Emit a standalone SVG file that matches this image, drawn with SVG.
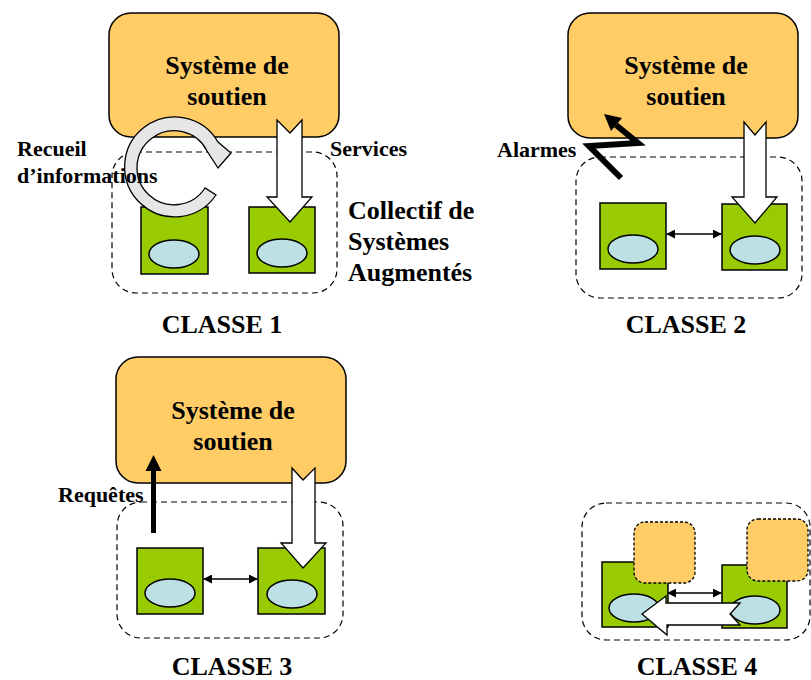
<svg xmlns="http://www.w3.org/2000/svg" width="811" height="680" viewBox="0 0 811 680">
<style>
.sup{fill:#FFCC66;stroke:#000;stroke-width:1.5}
.dash{fill:none;stroke:#000;stroke-width:1.2;stroke-dasharray:6,4}
.green{fill:#99CC00;stroke:#000;stroke-width:1.5}
.ell{fill:#BCE0E4;stroke:#000;stroke-width:1.5}
.warrow{fill:#fff;stroke:#000;stroke-width:1.3;stroke-linejoin:miter}
.dbl{stroke:#000;stroke-width:1.5;marker-start:url(#ah);marker-end:url(#ah)}
.small{fill:#FFCC66;stroke:#000;stroke-width:1.3;stroke-dasharray:3,2}
.t{font-family:"Liberation Serif","Times New Roman",serif;font-weight:bold;fill:#000}
.big{font-size:26px}
.lab{font-size:22px}
</style>
<defs>
<marker id="ah" viewBox="0 0 10 10" refX="9" refY="5" markerWidth="9" markerHeight="9" markerUnits="userSpaceOnUse" orient="auto-start-reverse">
<path d="M0,0 L10,5 L0,10 Z" fill="#000"/>
</marker>
</defs>
<rect width="811" height="680" fill="#fff"/>

<!-- CLASSE 1 -->
<g id="c1">
<rect class="dash" x="112" y="152" width="225" height="141" rx="24"/>
<g id="c1-support">
<rect class="sup" x="109" y="13" width="230" height="124" rx="22"/>
<text class="t big" x="227" y="74" text-anchor="middle">Système de</text>
<text class="t big" x="227" y="105" text-anchor="middle">soutien</text>
</g>
<g id="c1-sys1">
<rect class="green" x="141" y="207" width="67" height="67"/>
<ellipse class="ell" cx="174" cy="254" rx="25" ry="14"/>
</g>
<g id="c1-sys2">
<rect class="green" x="249" y="207" width="66" height="66"/>
<ellipse class="ell" cx="282" cy="253" rx="25" ry="14"/>
</g>
</g>

<!-- CLASSE 2 -->
<g id="c2">
<rect class="dash" x="576" y="157" width="226" height="141" rx="24"/>
<g id="c2-support">
<rect class="sup" x="568" y="13" width="230" height="125" rx="22"/>
<text class="t big" x="686" y="74" text-anchor="middle">Système de</text>
<text class="t big" x="686" y="105" text-anchor="middle">soutien</text>
</g>
<g id="c2-sys1">
<rect class="green" x="600" y="203" width="66" height="66"/>
<ellipse class="ell" cx="633" cy="249" rx="25" ry="14"/>
</g>
<g id="c2-sys2">
<rect class="green" x="722" y="204" width="65" height="66"/>
<ellipse class="ell" cx="755" cy="250" rx="25" ry="14"/>
</g>
</g>

<!-- CLASSE 3 -->
<g id="c3">
<rect class="dash" x="117" y="502" width="226" height="136" rx="24"/>
<g id="c3-support">
<rect class="sup" x="116" y="357" width="230" height="126" rx="22"/>
<text class="t big" x="233" y="419" text-anchor="middle">Système de</text>
<text class="t big" x="233" y="450" text-anchor="middle">soutien</text>
</g>
<g id="c3-sys1">
<rect class="green" x="137" y="548" width="66" height="66"/>
<ellipse class="ell" cx="170" cy="593" rx="25" ry="14"/>
</g>
<g id="c3-sys2">
<rect class="green" x="258" y="548" width="67" height="66"/>
<ellipse class="ell" cx="292" cy="594" rx="25" ry="14"/>
</g>
</g>

<!-- CLASSE 4 -->
<g id="c4">
<rect class="dash" x="582" y="503" width="228" height="137" rx="24"/>
<g id="c4-sys1">
<rect class="green" x="602" y="562" width="66" height="65"/>
<ellipse class="ell" cx="634" cy="608" rx="25" ry="14"/>
<rect class="small" x="634" y="522" width="61" height="61" rx="11"/>
</g>
<g id="c4-sys2">
<rect class="green" x="722" y="565" width="65" height="63"/>
<ellipse class="ell" cx="755" cy="610" rx="25" ry="14"/>
<rect class="small" x="747" y="519" width="61" height="62" rx="11"/>
</g>
</g>

<!-- connectors -->
<g id="connectors">
<!-- class 1 -->
<path class="warrow" d="M277,120 L290,133 L302,120 L302,197 L312,197 L290,222 L267,197 L277,197 Z"/>
<path d="M216,195 A50,50 0 1 1 218,142 L231,153 L218,168 L207,151 A37,37 0 1 0 205,188 Z" fill="#E6E6E6" stroke="#000" stroke-width="1.3" stroke-linejoin="miter"/>
<!-- class 2 -->
<path class="warrow" d="M744,122 L755,135 L766,122 L766,197 L777,197 L755,223 L732,197 L744,197 Z"/>
<line class="dbl" x1="667" y1="234" x2="721" y2="234"/>
<polyline points="621,178 589,146 638,143 616,125" fill="none" stroke="#000" stroke-width="6" stroke-linejoin="miter" stroke-miterlimit="10"/>
<polygon points="604,114 622,118 611,131" fill="#000"/>
<!-- class 3 -->
<path class="warrow" d="M292,468 L303,480 L315,468 L315,543 L326,543 L303,568 L281,543 L292,543 Z"/>
<line class="dbl" x1="204" y1="579" x2="257" y2="579"/>
<line x1="153.5" y1="533" x2="153.5" y2="468" stroke="#000" stroke-width="5"/>
<polygon points="153.5,455 145.5,471 161.5,471" fill="#000"/>
<!-- class 4 -->
<line class="dbl" x1="668" y1="593" x2="721" y2="593"/>
<path class="warrow" d="M740,603 L730,614 L740,625 L667,625 L667,635 L642,614 L666,596 L666,603 Z"/>
</g>

<!-- labels -->
<g id="labels">
<text class="t lab" x="17" y="156">Recueil</text>
<text class="t lab" x="17" y="183">d’informations</text>
<text class="t lab" x="330" y="156">Services</text>
<text class="t big" x="348" y="219">Collectif de</text>
<text class="t big" x="348" y="250">Systèmes</text>
<text class="t big" x="348" y="281">Augmentés</text>
<text class="t lab" x="497" y="157">Alarmes</text>
<text class="t lab" x="58" y="502">Requêtes</text>
<text class="t big" x="222" y="333" text-anchor="middle">CLASSE 1</text>
<text class="t big" x="686" y="333" text-anchor="middle">CLASSE 2</text>
<text class="t big" x="232" y="675" text-anchor="middle">CLASSE 3</text>
<text class="t big" x="697" y="675" text-anchor="middle">CLASSE 4</text>
</g>
</svg>
